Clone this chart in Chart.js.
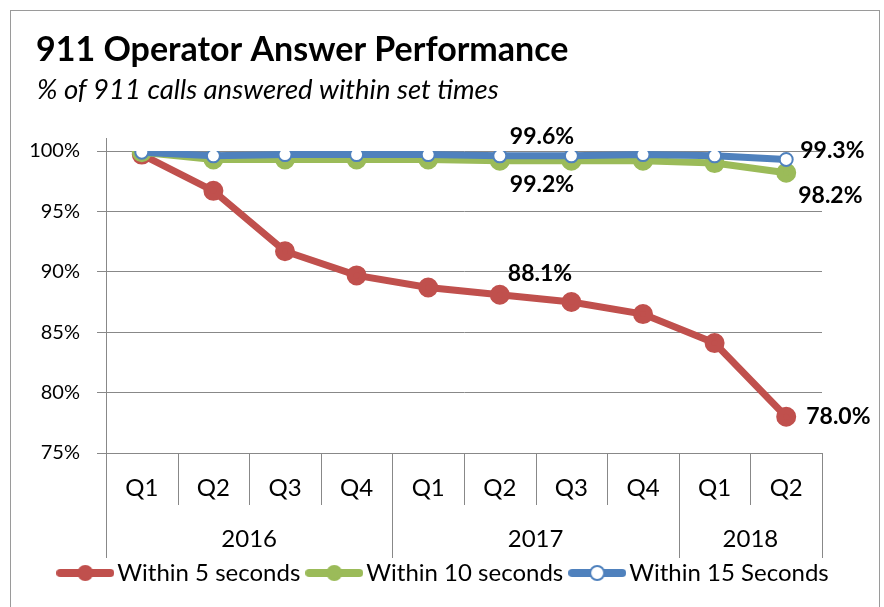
<!DOCTYPE html>
<html>
<head>
<meta charset="utf-8">
<script src="https://cdn.jsdelivr.net/npm/chart.js@4.4.0/dist/chart.umd.min.js"></script>
<style>
  html, body { margin: 0; padding: 0; background: #fff; }
</style>
</head>
<body>
<canvas id="chart" width="884" height="607"></canvas>
<script>
const quarters = ['Q1', 'Q2', 'Q3', 'Q4', 'Q1', 'Q2', 'Q3', 'Q4', 'Q1', 'Q2'];
const years = ['2016', '2017', '2018'];
const yearSpans = [4, 4, 2];
const within5 = [99.7, 96.7, 91.7, 89.7, 88.7, 88.1, 87.5, 86.5, 84.1, 78.0];
const within10 = [99.9, 99.3, 99.3, 99.3, 99.3, 99.2, 99.2, 99.2, 99.0, 98.2];
const within15 = [99.9, 99.6, 99.7, 99.7, 99.7, 99.6, 99.6, 99.7, 99.6, 99.3];
const yTicks = [75, 80, 85, 90, 95, 100];

const FONT = 'Lato, "Noto Sans", sans-serif';
const RED = '#C0504D', GREEN = '#9BBB59', BLUE = '#4F81BD', GRID = '#888888';

// which points get a value label: [dataset, index, dx, dy]
const labelSpots = [
  [2, 5, 10, -19], [1, 5, 10, 24], [0, 5, 8, -21],
  [2, 9, 14, -9], [1, 9, 12, 23], [0, 9, 20, 0]
];

// legend symbol: thick line with a marker in the middle
function legendIcon(color, fill) {
  const c = document.createElement('canvas');
  c.width = 58; c.height = 18;
  const g = c.getContext('2d');
  g.strokeStyle = color; g.lineWidth = 8;
  g.lineCap = 'round';
  g.beginPath(); g.moveTo(4, 9); g.lineTo(54, 9); g.stroke();
  g.beginPath(); g.arc(29, 9, 7, 0, Math.PI * 2);
  g.fillStyle = fill; g.fill();
  g.lineWidth = 2; g.strokeStyle = color; g.stroke();
  return c;
}

const frame = {
  id: 'frame',
  afterLayout(chart) {
    // legend in the original is centred on the whole frame, not the plot
    chart.legend.left += 31;
    chart.legend.right += 31;
  },
  beforeDraw(chart) {
    const ctx = chart.ctx;
    ctx.save();
    ctx.fillStyle = '#fff';
    ctx.fillRect(0, 0, chart.width, chart.height);
    ctx.strokeStyle = '#9a9a9a';
    ctx.lineWidth = 1;
    ctx.strokeRect(10.5, 10.5, 869, 640);
    ctx.fillStyle = '#000';
    ctx.textAlign = 'left';
    ctx.textBaseline = 'alphabetic';
    ctx.font = 'bold 34px ' + FONT;
    ctx.fillText('911 Operator Answer Performance', 36, 61);
    ctx.font = 'italic 27.5px ' + FONT;
    ctx.fillText('% of 911 calls answered within set times', 37, 99);
    ctx.restore();
  }
};

const groupAxis = {
  id: 'groupAxis',
  afterDraw(chart) {
    const ctx = chart.ctx, area = chart.chartArea;
    const w = (area.right - area.left) / quarters.length;
    const bottom = area.bottom;
    ctx.save();
    ctx.strokeStyle = GRID;
    ctx.lineWidth = 1;
    const breaks = [0];
    yearSpans.forEach((s, i) => breaks.push(breaks[i] + s));
    for (let i = 0; i <= quarters.length; i++) {
      const px = Math.round(area.left + i * w) + 0.5;
      const len = breaks.includes(i) ? 105 : 52;
      ctx.beginPath(); ctx.moveTo(px, bottom); ctx.lineTo(px, bottom + len); ctx.stroke();
    }
    const lx = Math.round(area.left) + 0.5;
    ctx.beginPath(); ctx.moveTo(lx, area.top - 13); ctx.lineTo(lx, area.top); ctx.stroke();
    ctx.fillStyle = '#000';
    ctx.font = '24px ' + FONT;
    ctx.textAlign = 'center';
    ctx.textBaseline = 'middle';
    years.forEach((y, i) => {
      const cx = area.left + (breaks[i] + breaks[i + 1]) / 2 * w;
      ctx.fillText(y, cx, bottom + 86);
    });
    ctx.restore();
  }
};

const valueLabels = {
  id: 'valueLabels',
  afterDatasetsDraw(chart) {
    const ctx = chart.ctx;
    ctx.save();
    ctx.fillStyle = '#000';
    ctx.font = 'bold 23px ' + FONT;
    ctx.textAlign = 'left';
    ctx.textBaseline = 'middle';
    labelSpots.forEach(([d, i, dx, dy]) => {
      const pt = chart.getDatasetMeta(d).data[i];
      const v = chart.data.datasets[d].data[i];
      ctx.fillText(v.toFixed(1) + '%', pt.x + dx, pt.y + dy);
    });
    ctx.restore();
  }
};

new Chart(document.getElementById('chart'), {
  type: 'line',
  data: {
    labels: quarters,
    datasets: [
      { label: 'Within 5 seconds', data: within5, borderColor: RED, backgroundColor: RED,
        pointBackgroundColor: RED, pointBorderColor: RED, borderWidth: 7, pointRadius: 6.5, order: 2 },
      { label: 'Within 10 seconds', data: within10, borderColor: GREEN, backgroundColor: GREEN,
        pointBackgroundColor: GREEN, pointBorderColor: GREEN, borderWidth: 7, pointRadius: 6.5, order: 1 },
      { label: 'Within 15 Seconds', data: within15, borderColor: BLUE, backgroundColor: BLUE,
        pointBackgroundColor: '#fff', pointBorderColor: BLUE, pointBorderWidth: 2, borderWidth: 7, pointRadius: 6.5, order: 0 }
    ]
  },
  options: {
    responsive: false,
    animation: false,
    layout: { padding: { left: 10, right: 62, top: 151, bottom: 12 } },
    scales: {
      x: {
        offset: true,
        grid: { display: false, drawTicks: false },
        border: { color: GRID },
        ticks: { color: '#000', font: { family: FONT, size: 24 }, padding: 21, maxRotation: 0, autoSkip: false },
        afterFit(s) { s.height = 94; }
      },
      y: {
        min: 75, max: 100,
        afterBuildTicks(s) { s.ticks = yTicks.map(v => ({ value: v })); },
        grid: { color: GRID, tickLength: 9 },
        border: { color: GRID },
        ticks: { color: '#000', font: { family: FONT, size: 20 }, padding: 17, callback: v => v + '%' },
        afterFit(s) { s.width = 96; }
      }
    },
    plugins: {
      title: { display: false },
      legend: {
        position: 'bottom',
        labels: {
          color: '#000', font: { family: FONT, size: 24 }, usePointStyle: true,
          pointStyleWidth: 40, boxHeight: 18, padding: 14,
          generateLabels(chart) {
            return chart.data.datasets.map((ds, i) => ({
              text: ds.label, datasetIndex: i, fontColor: '#000', lineWidth: 0,
              pointStyle: legendIcon(ds.borderColor, ds.pointBackgroundColor)
            }));
          }
        }
      },
      tooltip: { enabled: false }
    }
  },
  plugins: [frame, groupAxis, valueLabels]
});
</script>
</body>
</html>
